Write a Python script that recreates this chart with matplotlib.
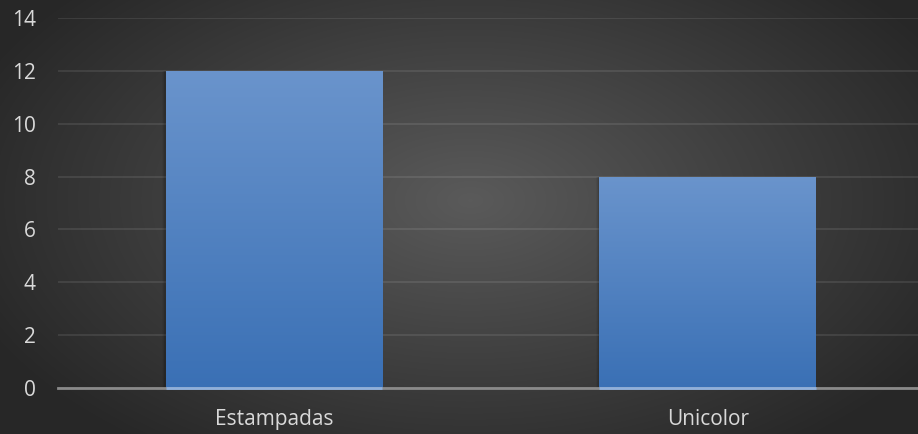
import numpy as np
import matplotlib
matplotlib.use('Agg')
import matplotlib.pyplot as plt
from matplotlib.colors import LinearSegmentedColormap

categories = ["Estampadas", "Unicolor"]
values = [12, 8]
y_ticks = [0, 2, 4, 6, 8, 10, 12, 14]

plt.rcParams['font.family'] = ['Open Sans', 'DejaVu Sans']

fig = plt.figure(figsize=(9.18, 4.34), dpi=100)

# radial dark background
bg = fig.add_axes([0, 0, 1, 1], zorder=0)
yy, xx = np.mgrid[0:434, 0:918]
r = np.sqrt(((xx - 470) / 540.0) ** 2 + ((yy - 200) / 310.0) ** 2)
r = np.clip(r, 0, 1)
bg_cmap = LinearSegmentedColormap.from_list("bg", ["#5a5a5a", "#272727"])
bg.imshow(r, cmap=bg_cmap, aspect='auto', extent=[0, 1, 0, 1], vmin=0, vmax=1)
bg.axis('off')

ax = fig.add_axes([58 / 918, 46 / 434, 1 - 58 / 918, 370 / 434], zorder=1)
ax.patch.set_alpha(0)

x = np.arange(len(categories))
width = 0.5
bars = ax.bar(x, values, width=width, color='none', zorder=3)

# vertical gradient fill for each bar
bar_cmap = LinearSegmentedColormap.from_list("bar", ["#3a70b5", "#6a94cc"])
grad = np.linspace(0, 1, 256).reshape(-1, 1)
for b in bars:
    x0, w, h = b.get_x(), b.get_width(), b.get_height()
    # faint shadow on the left edge
    for k, a in enumerate([0.10, 0.07, 0.04]):
        ax.bar(x0 + w / 2 - 0.0025 * (k + 1), h, width=w, color='black',
               alpha=a, zorder=2, linewidth=0)
    im = ax.imshow(grad, cmap=bar_cmap, origin='lower', aspect='auto',
                   extent=[x0, x0 + w, 0, h], zorder=3)
    im.set_clip_path(b)

ax.set_xlim(-0.4977, 1.4839)
ax.set_ylim(0, 14)
ax.set_yticks(y_ticks)
ax.set_xticks(x)
ax.set_xticklabels(categories)
ax.grid(axis='y', color='#ffffff', alpha=0.09, linewidth=1.5, zorder=1)
ax.set_axisbelow(True)

for side in ['top', 'right', 'left']:
    ax.spines[side].set_visible(False)
ax.spines['bottom'].set_color('#8a8a8a')
ax.spines['bottom'].set_linewidth(2)
ax.spines['bottom'].set_zorder(4)
# baseline tinted where it runs under the bars
ax.hlines([0] * len(x), x - width / 2, x + width / 2, color='#8fb0dc',
          linewidth=2, zorder=5, clip_on=False)

ax.tick_params(axis='both', length=0, colors='#d9d9d9', labelsize=15)
ax.tick_params(axis='y', pad=16)
ax.tick_params(axis='x', pad=15)

fig.savefig("out.png", dpi=100)
